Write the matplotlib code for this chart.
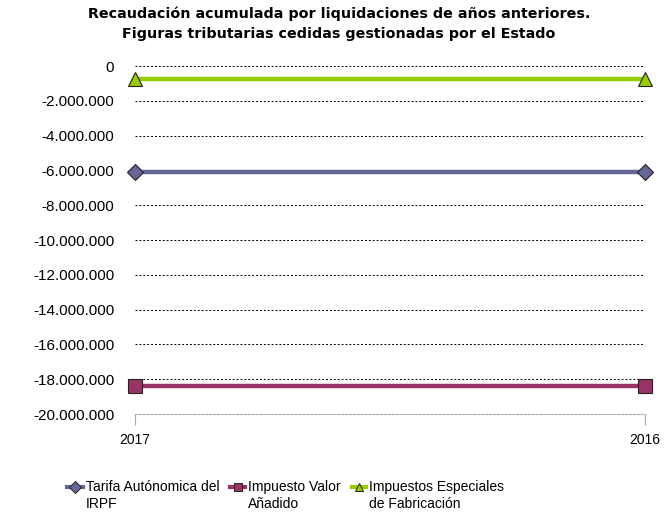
import matplotlib
matplotlib.use("Agg")
import matplotlib.pyplot as plt
from matplotlib.lines import Line2D
from matplotlib.ticker import FuncFormatter

categories = ["2017", "2016"]
series_names = ["Tarifa Autónomica del\nIRPF", "Impuesto Valor\nAñadido", "Impuestos Especiales\nde Fabricación"]
irpf = [-6110000, -6110000]
iva = [-18390000, -18390000]
iiee = [-750000, -750000]
yticks = list(range(0, -20000001, -2000000))

colors = ["#666699", "#993366", "#99CC00"]
markers = ["D", "s", "^"]
values = [irpf, iva, iiee]

plt.rcParams['font.family'] = ['Liberation Sans', 'DejaVu Sans']

fig = plt.figure(figsize=(6.65, 5.15), dpi=100)
ax = fig.add_axes([135/665, 1-414/515, (645-135)/665, (414-66)/515])

x = list(range(len(categories)))
for vals, c, m in zip(values, colors, markers):
    ax.plot(x, vals, color=c, lw=3.2, marker=m, markersize=10 if m != "D" else 8,
            markerfacecolor=c, markeredgecolor="#222222", markeredgewidth=0.8,
            clip_on=False, zorder=3)

ax.set_xlim(0, 1)
ax.set_ylim(-20000000, 0)
ax.set_yticks(yticks)
ax.yaxis.set_major_formatter(FuncFormatter(lambda v, p: f"{int(v):,}".replace(",", ".")))
ax.set_xticks(x)
ax.set_xticklabels(categories)

for s in ["top", "right", "left"]:
    ax.spines[s].set_visible(False)
ax.spines["bottom"].set_color("#aaaaaa")
ax.spines["bottom"].set_linestyle((0, (2, 1.5)))
ax.spines["bottom"].set_linewidth(0.8)

ax.tick_params(axis="y", length=0, pad=15, labelsize=11)
ax.tick_params(axis="x", length=8, color="#aaaaaa", pad=6, labelsize=10)

for yv in yticks[:-1]:
    ax.axhline(yv, color="black", lw=0.7, ls=(0, (2, 2)), zorder=1)

fig.text(339/665, 1-14/515, "Recaudación acumulada por liquidaciones de años anteriores.",
         ha="center", va="center", fontsize=10.3, fontweight="bold", family="DejaVu Sans")
fig.text(339/665, 1-34/515, "Figuras tributarias cedidas gestionadas por el Estado",
         ha="center", va="center", fontsize=10.3, fontweight="bold", family="DejaVu Sans")

# legend
leg_handles = [(67, 83), (230, 245), (352, 366)]
leg_text_x = [86, 248, 369]
ly = 1 - 487/515
for (x0, x1), tx, name, c, m in zip(leg_handles, leg_text_x, series_names, colors, markers):
    fig.add_artist(Line2D([x0/665, x1/665], [ly, ly], color=c, lw=3, transform=fig.transFigure))
    fig.add_artist(Line2D([(x0+x1)/2/665], [ly], color=c, marker=m, markersize=6,
                          markeredgecolor="#222222", markeredgewidth=0.7, transform=fig.transFigure))
    fig.text(tx/665, 1-(487-7)/515, name, ha="left", va="top", fontsize=10, linespacing=1.3)

fig.savefig("out.png", dpi=100)
